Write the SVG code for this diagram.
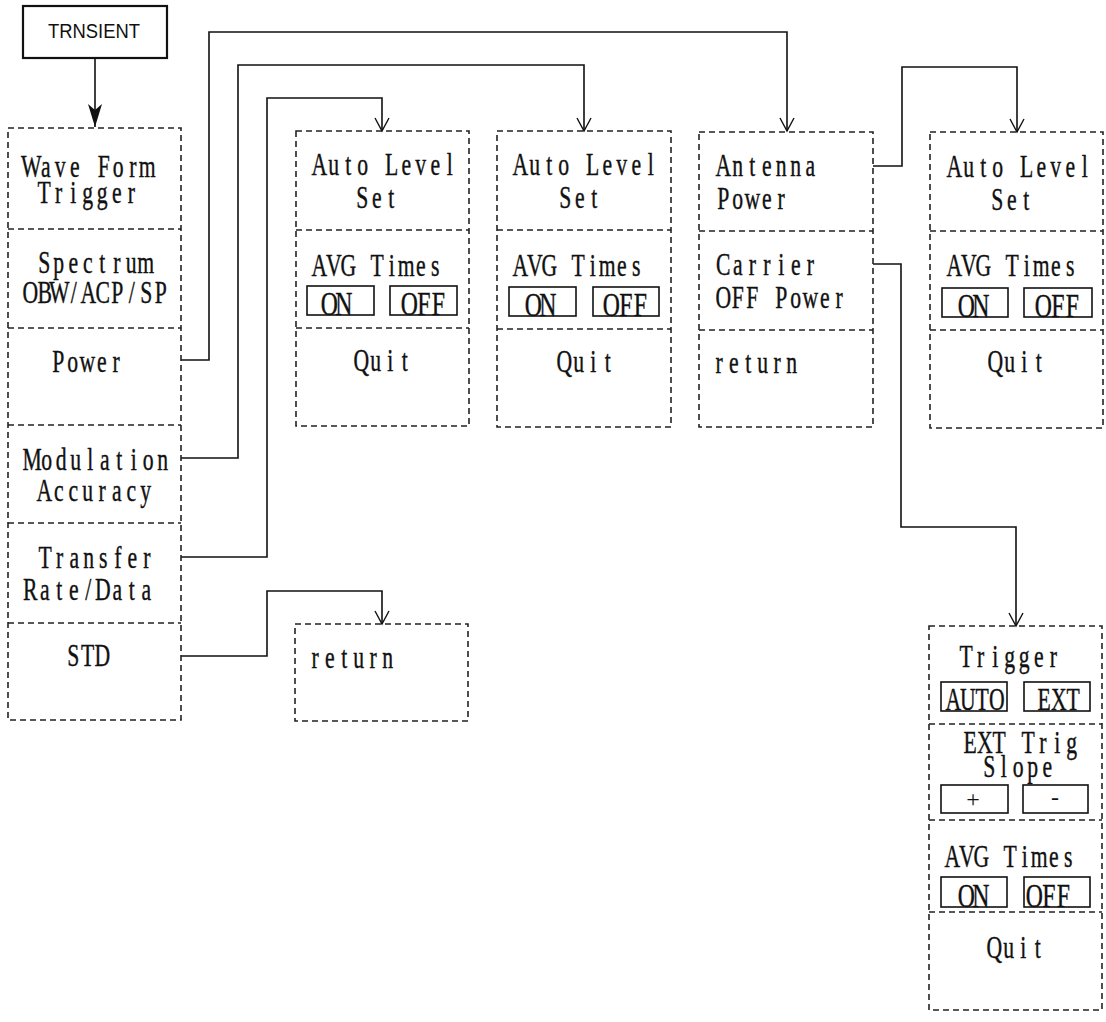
<svg xmlns="http://www.w3.org/2000/svg" width="1106" height="1022" viewBox="0 0 1106 1022">
<style>
.bg{fill:#fff}
.box{fill:none;stroke:#222;stroke-width:1.6;stroke-dasharray:6 4}
.div{fill:none;stroke:#222;stroke-width:1.6;stroke-dasharray:6 4}
.btn{fill:none;stroke:#111;stroke-width:1.6}
.t{font-family:"Liberation Serif","Times New Roman",serif;font-size:31px;fill:#111;stroke:#111;stroke-width:0.4;text-anchor:middle}
.b{font-size:34px}
.s{font-family:"Liberation Serif","Times New Roman",serif;font-size:24px;fill:#111;text-anchor:middle}
.hd{font-family:"Liberation Sans",Arial,sans-serif;font-size:20px;fill:#111}
.c{fill:none;stroke:#111;stroke-width:1.6}
.m{fill:none;stroke:#111;stroke-width:1.4}
</style>
<defs>
<marker id="v" markerUnits="userSpaceOnUse" orient="auto" refX="0" refY="0" markerWidth="30" markerHeight="30" overflow="visible">
<path class="m" d="M-13,-7 L0,0 L-13,7"/>
</marker>
<marker id="f" markerUnits="userSpaceOnUse" orient="auto" refX="0" refY="0" markerWidth="30" markerHeight="30" overflow="visible">
<path d="M-23,-7 L0,0 L-23,7 L-17,0 Z" fill="#111"/>
</marker>
</defs>
<rect class="bg" x="0" y="0" width="1106" height="1022"/>

<g id="connectors">
<path class="c" d="M95,58 V127" stroke-width="2.4" marker-end="url(#f)"/>
<path class="c" d="M181,360 H209 V32 H787 V131" marker-end="url(#v)"/>
<path class="c" d="M181,458 H238 V65 H584 V131" marker-end="url(#v)"/>
<path class="c" d="M181,557 H267 V98 H382 V131" marker-end="url(#v)"/>
<path class="c" d="M181,656 H267 V591 H382 V624" marker-end="url(#v)"/>
<path class="c" d="M873,166 H902 V67 H1017 V132" marker-end="url(#v)"/>
<path class="c" d="M873,264 H901 V527 H1016 V626" marker-end="url(#v)"/>
</g>

<g id="trnsient">
<rect x="23" y="6" width="144" height="52" fill="#fff" stroke="#111" stroke-width="2.2"/>
<text class="hd" x="94" y="38" text-anchor="middle" textLength="92" lengthAdjust="spacingAndGlyphs">TRNSIENT</text>
</g>

<g id="main-menu">
<rect class="box" x="8" y="128" width="173" height="592"/>
<path class="div" d="M8,229 H181 M8,328 H181 M8,425 H181 M8,523 H181 M8,623 H181"/>
<text class="t" transform="translate(24,0) scale(0.7,1)" x="10.36 31.07 51.79 72.5 93.21 113.93 134.64 155.36 176.07 196.79" y="177">Wave Form</text>
<text class="t" transform="translate(37,0) scale(0.7,1)" x="10.36 31.07 51.79 72.5 93.21 113.93 134.64 155.36 176.07 196.79" y="203">Trigger</text>
<text class="t" transform="translate(37,0) scale(0.7,1)" x="10.36 31.07 51.79 72.5 93.21 113.93 134.64 155.36 176.07 196.79" y="273">Spectrum</text>
<text class="t" transform="translate(23,0) scale(0.7,1)" x="10.36 31.07 51.79 72.5 93.21 113.93 134.64 155.36 176.07 196.79" y="303">OBW/ACP/SP</text>
<text class="t" transform="translate(51,0) scale(0.7,1)" x="10.36 31.07 51.79 72.5 93.21 113.93 134.64 155.36 176.07 196.79" y="372">Power</text>
<text class="t" transform="translate(25,0) scale(0.7,1)" x="10.36 31.07 51.79 72.5 93.21 113.93 134.64 155.36 176.07 196.79" y="470">Modulation</text>
<text class="t" transform="translate(37,0) scale(0.7,1)" x="10.36 31.07 51.79 72.5 93.21 113.93 134.64 155.36 176.07 196.79" y="501">Accuracy</text>
<text class="t" transform="translate(38,0) scale(0.7,1)" x="10.36 31.07 51.79 72.5 93.21 113.93 134.64 155.36 176.07 196.79" y="568">Transfer</text>
<text class="t" transform="translate(23,0) scale(0.7,1)" x="10.36 31.07 51.79 72.5 93.21 113.93 134.64 155.36 176.07 196.79" y="600">Rate/Data</text>
<text class="t" transform="translate(66,0) scale(0.7,1)" x="10.36 31.07 51.79 72.5 93.21 113.93 134.64 155.36 176.07 196.79" y="666">STD</text>
</g>

<g id="menu-transfer">
<rect class="box" x="296" y="131" width="173" height="295"/>
<path class="div" d="M296,230 H469 M296,328 H469"/>
<text class="t" transform="translate(312,0) scale(0.7,1)" x="10.36 31.07 51.79 72.5 93.21 113.93 134.64 155.36 176.07 196.79" y="175">Auto Level</text>
<text class="t" transform="translate(355,0) scale(0.7,1)" x="10.36 31.07 51.79 72.5 93.21 113.93 134.64 155.36 176.07 196.79" y="208">Set</text>
<text class="t" transform="translate(312,0) scale(0.7,1)" x="10.36 31.07 51.79 72.5 93.21 113.93 134.64 155.36 176.07 196.79" y="276">AVG Times</text>
<rect class="btn" x="307" y="286" width="67" height="29"/>
<text class="t b" transform="translate(322,0) scale(0.7,1)" x="10.36 31.07 51.79 72.5 93.21 113.93 134.64 155.36 176.07 196.79" y="315">ON</text>
<rect class="btn" x="390" y="286" width="67" height="29"/>
<text class="t b" transform="translate(402,0) scale(0.7,1)" x="10.36 31.07 51.79 72.5 93.21 113.93 134.64 155.36 176.07 196.79" y="315">OFF</text>
<text class="t" transform="translate(354,0) scale(0.7,1)" x="10.36 31.07 51.79 72.5 93.21 113.93 134.64 155.36 176.07 196.79" y="371">Quit</text>
</g>

<g id="menu-modulation">
<rect class="box" x="497" y="131" width="174" height="296"/>
<path class="div" d="M497,230 H671 M497,329 H671"/>
<text class="t" transform="translate(513,0) scale(0.7,1)" x="10.36 31.07 51.79 72.5 93.21 113.93 134.64 155.36 176.07 196.79" y="175">Auto Level</text>
<text class="t" transform="translate(558,0) scale(0.7,1)" x="10.36 31.07 51.79 72.5 93.21 113.93 134.64 155.36 176.07 196.79" y="208">Set</text>
<text class="t" transform="translate(513,0) scale(0.7,1)" x="10.36 31.07 51.79 72.5 93.21 113.93 134.64 155.36 176.07 196.79" y="276">AVG Times</text>
<rect class="btn" x="509" y="287" width="67" height="29"/>
<text class="t b" transform="translate(526,0) scale(0.7,1)" x="10.36 31.07 51.79 72.5 93.21 113.93 134.64 155.36 176.07 196.79" y="316">ON</text>
<rect class="btn" x="593" y="287" width="66" height="29"/>
<text class="t b" transform="translate(604,0) scale(0.7,1)" x="10.36 31.07 51.79 72.5 93.21 113.93 134.64 155.36 176.07 196.79" y="316">OFF</text>
<text class="t" transform="translate(557,0) scale(0.7,1)" x="10.36 31.07 51.79 72.5 93.21 113.93 134.64 155.36 176.07 196.79" y="372">Quit</text>
</g>

<g id="menu-power">
<rect class="box" x="699" y="132" width="174" height="295"/>
<path class="div" d="M699,231 H873 M699,330 H873"/>
<text class="t" transform="translate(716,0) scale(0.7,1)" x="10.36 31.07 51.79 72.5 93.21 113.93 134.64 155.36 176.07 196.79" y="176">Antenna</text>
<text class="t" transform="translate(716,0) scale(0.7,1)" x="10.36 31.07 51.79 72.5 93.21 113.93 134.64 155.36 176.07 196.79" y="209">Power</text>
<text class="t" transform="translate(716,0) scale(0.7,1)" x="10.36 31.07 51.79 72.5 93.21 113.93 134.64 155.36 176.07 196.79" y="275">Carrier</text>
<text class="t" transform="translate(716,0) scale(0.7,1)" x="10.36 31.07 51.79 72.5 93.21 113.93 134.64 155.36 176.07 196.79" y="308">OFF Power</text>
<text class="t" transform="translate(712,0) scale(0.7,1)" x="10.36 31.07 51.79 72.5 93.21 113.93 134.64 155.36 176.07 196.79" y="373">return</text>
</g>

<g id="menu-antenna">
<rect class="box" x="930" y="132" width="173" height="296"/>
<path class="div" d="M930,231 H1103 M930,330 H1103"/>
<text class="t" transform="translate(947,0) scale(0.7,1)" x="10.36 31.07 51.79 72.5 93.21 113.93 134.64 155.36 176.07 196.79" y="177">Auto Level</text>
<text class="t" transform="translate(990,0) scale(0.7,1)" x="10.36 31.07 51.79 72.5 93.21 113.93 134.64 155.36 176.07 196.79" y="210">Set</text>
<text class="t" transform="translate(947,0) scale(0.7,1)" x="10.36 31.07 51.79 72.5 93.21 113.93 134.64 155.36 176.07 196.79" y="276">AVG Times</text>
<rect class="btn" x="942" y="288" width="66" height="29"/>
<text class="t b" transform="translate(959,0) scale(0.7,1)" x="10.36 31.07 51.79 72.5 93.21 113.93 134.64 155.36 176.07 196.79" y="317">ON</text>
<rect class="btn" x="1024" y="288" width="68" height="29" stroke-width="2"/>
<text class="t b" transform="translate(1036,0) scale(0.7,1)" x="10.36 31.07 51.79 72.5 93.21 113.93 134.64 155.36 176.07 196.79" y="317">OFF</text>
<text class="t" transform="translate(988,0) scale(0.7,1)" x="10.36 31.07 51.79 72.5 93.21 113.93 134.64 155.36 176.07 196.79" y="372">Quit</text>
</g>

<g id="menu-std">
<rect class="box" x="295" y="624" width="173" height="97"/>
<text class="t" transform="translate(308,0) scale(0.7,1)" x="10.36 31.07 51.79 72.5 93.21 113.93 134.64 155.36 176.07 196.79" y="668">return</text>
</g>

<g id="menu-carrier">
<rect class="box" x="929" y="626" width="173" height="384"/>
<path class="div" d="M929,724 H1102 M929,820 H1102 M929,912 H1102"/>
<text class="t" transform="translate(959,0) scale(0.7,1)" x="10.36 31.07 51.79 72.5 93.21 113.93 134.64 155.36 176.07 196.79" y="667">Trigger</text>
<rect class="btn" x="941" y="682" width="66" height="29"/>
<text class="t" transform="translate(946,0) scale(0.7,1)" x="10.36 31.07 51.79 72.5 93.21 113.93 134.64 155.36 176.07 196.79" y="710">AUTO</text>
<rect class="btn" x="1024" y="682" width="66" height="29"/>
<text class="t" transform="translate(1037,0) scale(0.7,1)" x="10.36 31.07 51.79 72.5 93.21 113.93 134.64 155.36 176.07 196.79" y="710">EXT</text>
<text class="t" transform="translate(963,0) scale(0.7,1)" x="10.36 31.07 51.79 72.5 93.21 113.93 134.64 155.36 176.07 196.79" y="753">EXT Trig</text>
<text class="t" transform="translate(982,0) scale(0.7,1)" x="10.36 31.07 51.79 72.5 93.21 113.93 134.64 155.36 176.07 196.79" y="777">Slope</text>
<rect class="btn" x="941" y="785" width="67" height="28"/>
<text class="s" x="973" y="807">+</text>
<rect class="btn" x="1023" y="785" width="65" height="28"/>
<text class="s" x="1055" y="805" font-size="18">-</text>
<text class="t" transform="translate(945,0) scale(0.7,1)" x="10.36 31.07 51.79 72.5 93.21 113.93 134.64 155.36 176.07 196.79" y="867">AVG Times</text>
<rect class="btn" x="941" y="877" width="66" height="30"/>
<text class="t b" transform="translate(959,0) scale(0.7,1)" x="10.36 31.07 51.79 72.5 93.21 113.93 134.64 155.36 176.07 196.79" y="907">ON</text>
<rect class="btn" x="1024" y="877" width="66" height="30" stroke-width="2"/>
<text class="t b" transform="translate(1027,0) scale(0.7,1)" x="10.36 31.07 51.79 72.5 93.21 113.93 134.64 155.36 176.07 196.79" y="907">OFF</text>
<text class="t" transform="translate(987,0) scale(0.7,1)" x="10.36 31.07 51.79 72.5 93.21 113.93 134.64 155.36 176.07 196.79" y="958">Quit</text>
</g>
</svg>
